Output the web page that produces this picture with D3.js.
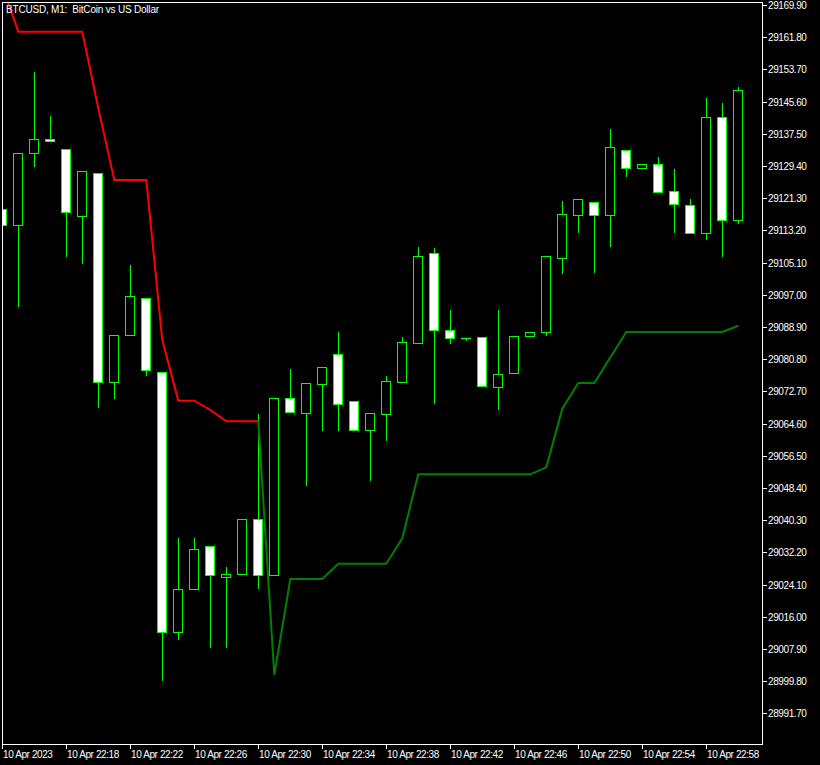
<!DOCTYPE html>
<html>
<head>
<meta charset="utf-8">
<script src="https://cdn.jsdelivr.net/npm/d3@7"></script>
<style>
  html, body { margin: 0; padding: 0; background: #000; }
  svg { display: block; }
  text { font-family: "Liberation Sans", Arial, sans-serif; font-size: 10px; fill: #fff; white-space: pre; }
</style>
</head>
<body>
<svg id="chart" width="820" height="765"></svg>
<script>
// ---- data ----
const title = "BTCUSD, M1:  BitCoin vs US Dollar";
const barTimes = ["22:14","22:15","22:16","22:17","22:18","22:19","22:20","22:21","22:22","22:23","22:24","22:25","22:26","22:27","22:28","22:29","22:30","22:31","22:32","22:33","22:34","22:35","22:36","22:37","22:38","22:39","22:40","22:41","22:42","22:43","22:44","22:45","22:46","22:47","22:48","22:49","22:50","22:51","22:52","22:53","22:54","22:55","22:56","22:57","22:58","22:59","23:00"];
const opens  = [29118.50,29114.48,29132.59,29136.11,29133.60,29116.74,29127.56,29074.99,29086.81,29096.12,29077.50,29012.10,29022.92,29033.73,29025.93,29026.69,29040.52,29026.44,29070.96,29067.34,29074.63,29082.03,29070.21,29063.06,29067.09,29075.14,29084.95,29107.44,29088.07,29086.13,29086.31,29073.73,29077.25,29086.56,29087.56,29106.33,29117.15,29120.26,29117.15,29133.35,29128.97,29129.82,29123.03,29119.51,29112.62,29141.65,29115.89];
const highs  = [29118.50,29132.59,29153.04,29141.97,29133.60,29128.06,29127.56,29086.81,29104.49,29096.12,29077.50,29035.74,29035.74,29033.73,29028.45,29040.52,29066.94,29070.96,29078.33,29074.73,29078.76,29087.64,29070.21,29067.19,29076.57,29086.38,29109.02,29108.77,29093.17,29086.13,29086.31,29093.17,29086.56,29087.56,29106.68,29120.59,29121.02,29120.26,29138.70,29133.35,29129.82,29131.66,29128.64,29121.09,29146.50,29145.24,29149.27];
const lows   = [29114.48,29094.25,29129.47,29135.61,29106.83,29105.07,29068.85,29071.11,29086.81,29076.90,29000.18,29010.49,29022.92,29008.48,29008.48,29026.69,29023.17,29026.44,29067.59,29049.15,29062.99,29062.99,29063.06,29050.41,29060.47,29075.14,29084.95,29069.86,29084.95,29085.75,29074.13,29068.34,29077.25,29086.56,29086.96,29102.56,29112.87,29102.81,29109.35,29126.96,29128.97,29122.93,29112.87,29112.62,29111.11,29106.83,29115.13];
const closes = [29114.48,29132.59,29136.11,29135.61,29117.75,29128.06,29074.99,29086.81,29096.62,29078.00,29012.10,29022.92,29032.98,29026.44,29026.76,29040.52,29026.44,29070.96,29067.59,29074.73,29078.76,29069.60,29063.06,29067.19,29075.24,29085.05,29106.68,29088.07,29086.21,29086.13,29074.13,29077.00,29086.56,29087.56,29106.68,29117.25,29121.02,29117.15,29134.10,29128.97,29129.82,29122.93,29119.91,29112.62,29141.65,29115.89,29148.44];
// upper (red) line, bars 0..16
const redLine = [29174.68,29163.18,29163.18,29163.18,29163.18,29163.18,29143.94,29125.87,29125.87,29125.87,29085.63,29070.36,29070.36,29068.02,29065.18,29065.18,29065.18];
// lower (green) line, bars 16..46
const greenStart = 16;
const greenLine = [29065.18,29001.36,29025.51,29025.51,29025.51,29029.35,29029.35,29029.35,29029.35,29035.74,29051.84,29051.84,29051.84,29051.84,29051.84,29051.84,29051.84,29051.84,29053.60,29068.34,29074.81,29074.81,29081.22,29087.64,29087.64,29087.64,29087.64,29087.64,29087.64,29087.64,29089.22];
const priceTicks = [29169.90,29161.80,29153.70,29145.60,29137.50,29129.40,29121.30,29113.20,29105.10,29097.00,29088.90,29080.80,29072.70,29064.60,29056.50,29048.40,29040.30,29032.20,29024.10,29016.00,29007.90,28999.80,28991.70];
const timeTickIdx = [0,4,8,12,16,20,24,28,32,36,40,44];
const timeTickLabels = ["10 Apr 2023","10 Apr 22:18","10 Apr 22:22","10 Apr 22:26","10 Apr 22:30","10 Apr 22:34","10 Apr 22:38","10 Apr 22:42","10 Apr 22:46","10 Apr 22:50","10 Apr 22:54","10 Apr 22:58"];

// ---- layout ----
const L = 2, T = 2, R = 762, B = 744;
const svg = d3.select("#chart");
svg.append("rect").attr("width", 820).attr("height", 765).attr("fill", "#000");

const x = d3.scaleLinear().domain([0, barTimes.length - 1]).range([2.3, 738.3]);
const y = d3.scaleLinear().domain([28984.0, 29170.65]).range([B, T]);
const px = v => Math.round(v);

svg.append("defs").append("clipPath").attr("id", "plot")
  .append("rect").attr("x", L + 0.5).attr("y", T + 0.5).attr("width", R - L - 1).attr("height", B - T - 1);

const g = svg.append("g").attr("clip-path", "url(#plot)");
const UP = "#00ff00";

const candles = barTimes.map((t, i) => ({ i, o: opens[i], h: highs[i], l: lows[i], c: closes[i] }));

// wicks
g.selectAll("line.wick").data(candles).join("line").attr("class", "wick")
  .attr("x1", d => px(x(d.i)) + 0.5).attr("x2", d => px(x(d.i)) + 0.5)
  .attr("y1", d => px(y(d.h))).attr("y2", d => px(y(d.l)) + 1)
  .attr("stroke", UP).attr("stroke-width", 1);

// bodies
candles.forEach(d => {
  const cx = px(x(d.i));
  const y1 = px(y(Math.max(d.o, d.c))), y2 = px(y(Math.min(d.o, d.c)));
  if (y2 - y1 < 1) {
    g.append("line").attr("x1", cx - 5).attr("x2", cx + 5)
      .attr("y1", y1 + 0.5).attr("y2", y1 + 0.5).attr("stroke", UP).attr("stroke-width", 1.5);
  } else {
    g.append("rect").attr("x", cx - 4.5).attr("y", y1 + 0.5)
      .attr("width", 9).attr("height", y2 - y1)
      .attr("fill", d.c >= d.o ? "#000" : "#fff")
      .attr("stroke", UP).attr("stroke-width", 1);
  }
});

// indicator lines
const lineGen = d3.line().x(d => x(d[0])).y(d => y(d[1]));
g.append("path").datum(redLine.map((v, i) => [i, v]))
  .attr("d", lineGen).attr("fill", "none").attr("stroke", "#ff0000").attr("stroke-width", 2);
g.append("path").datum(greenLine.map((v, i) => [i + greenStart, v]))
  .attr("d", lineGen).attr("fill", "none").attr("stroke", "#008000").attr("stroke-width", 2);

// frame
svg.append("rect").attr("x", L + 0.5).attr("y", T + 0.5).attr("width", R - L).attr("height", B - T)
  .attr("fill", "none").attr("stroke", "#fff").attr("stroke-width", 1);

// price axis
const ya = svg.append("g");
priceTicks.forEach(v => {
  const yy = px(y(v)) + 0.5;
  ya.append("line").attr("x1", R + 0.5).attr("x2", R + 5).attr("y1", yy).attr("y2", yy)
    .attr("stroke", "#fff").attr("stroke-width", 1);
  ya.append("text").attr("x", R + 6).attr("y", yy + 3.5).attr("letter-spacing", "-0.4px")
    .text(v.toFixed(2));
});

// time axis
const xa = svg.append("g");
timeTickIdx.forEach((idx, k) => {
  const xx = px(x(idx)) + 0.5;
  xa.append("line").attr("x1", xx).attr("x2", xx).attr("y1", B + 0.5).attr("y2", B + 5)
    .attr("stroke", "#fff").attr("stroke-width", 1);
  xa.append("text").attr("x", xx + 0.5).attr("y", 757.5).attr("letter-spacing", "-0.4px")
    .text(timeTickLabels[k]);
});

// title
svg.append("text").attr("x", 6).attr("y", 13).attr("letter-spacing", "-0.2px").text(title);
</script>
</body>
</html>
